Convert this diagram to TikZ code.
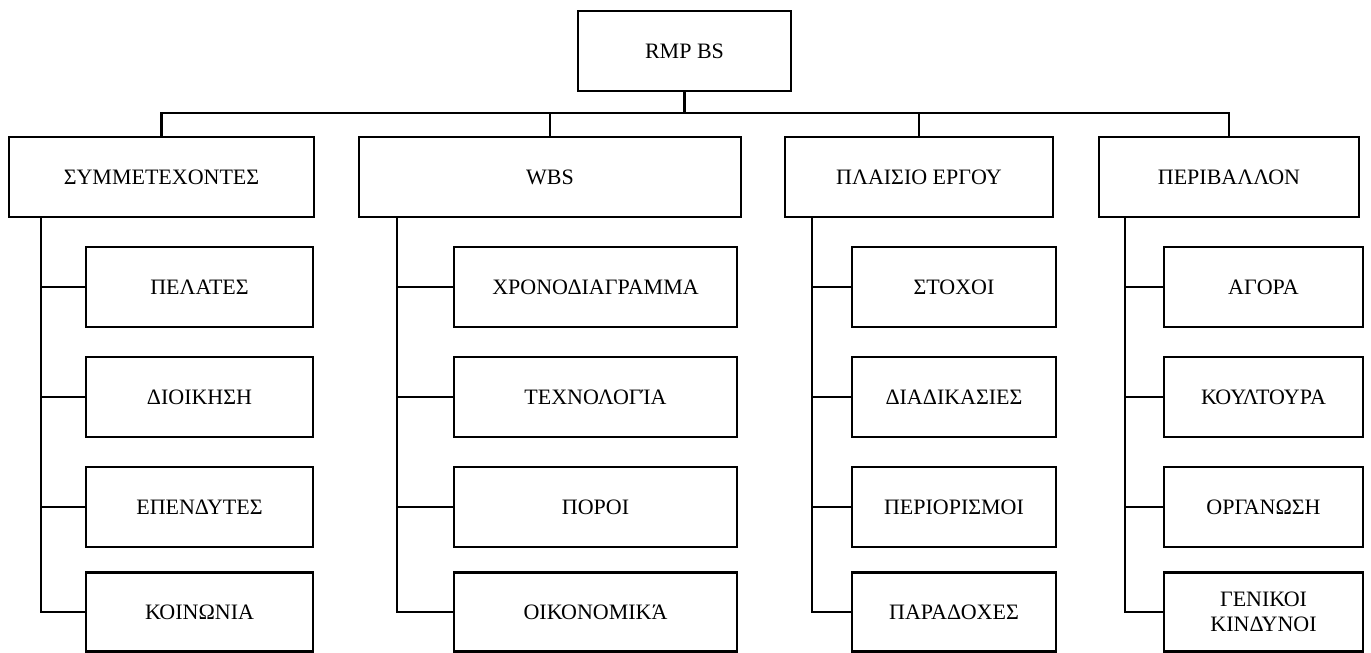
\documentclass[tikz,border=0pt]{standalone}
\usepackage{fontspec}
\setmainfont{Liberation Serif}
\begin{document}
\begin{tikzpicture}[x=1pt,y=-1pt,
  box/.style={draw=black,line width=2.2pt,fill=white,inner sep=0pt,
    font=\fontsize{22}{25}\selectfont,align=center},
  link/.style={draw=black,line width=2.2pt}]
\useasboundingbox[fill=white] (0,0) rectangle (1371,653);

% root
\node[box,minimum width=213pt,minimum height=80pt] (root) at (684.5,51) {RMP BS};

% first level
\node[box,minimum width=305pt,minimum height=80pt] (A) at (161.5,177) {ΣΥΜΜΕΤΕΧΟΝΤΕΣ};
\node[box,minimum width=382pt,minimum height=80pt] (B) at (550,177) {WBS};
\node[box,minimum width=268pt,minimum height=80pt] (C) at (919,177) {ΠΛΑΙΣΙΟ ΕΡΓΟΥ};
\node[box,minimum width=260pt,minimum height=80pt] (D) at (1229,177) {ΠΕΡΙΒΑΛΛΟΝ};

% second level
\foreach \n/\cx/\w/\tx/\ta/\tb/\tc/\td in {
  A/199.5/227/41/ΠΕΛΑΤΕΣ/ΔΙΟΙΚΗΣΗ/ΕΠΕΝΔΥΤΕΣ/ΚΟΙΝΩΝΙΑ,
  B/595.5/283/397/ΧΡΟΝΟΔΙΑΓΡΑΜΜΑ/ΤΕΧΝΟΛΟΓΊΑ/ΠΟΡΟΙ/ΟΙΚΟΝΟΜΙΚΆ,
  C/954/204/812/ΣΤΟΧΟΙ/ΔΙΑΔΙΚΑΣΙΕΣ/ΠΕΡΙΟΡΙΣΜΟΙ/ΠΑΡΑΔΟΧΕΣ,
  D/1263.5/199/1125/ΑΓΟΡΑ/ΚΟΥΛΤΟΥΡΑ/ΟΡΓΑΝΩΣΗ/{ΓΕΝΙΚΟΙ\\ΚΙΝΔΥΝΟΙ}} {
  \node[box,minimum width=\w pt,minimum height=80pt] (\n1) at (\cx,287) {\ta};
  \node[box,minimum width=\w pt,minimum height=80pt] (\n2) at (\cx,397) {\tb};
  \node[box,minimum width=\w pt,minimum height=80pt] (\n3) at (\cx,507) {\tc};
  \node[box,minimum width=\w pt,minimum height=79pt] (\n4) at (\cx,612) {\td};
  % trunk from the parent box down to the last child, with a branch to each child
  \coordinate (\n t) at (\tx,217);
  \draw[link] (\n t) |- (\n4.west);
  \foreach \k in {1,2,3} {
    \draw[link] (\n t |- \n\k.west) -- (\n\k.west);
  }
}

% bus from the root to the first level
\coordinate (bus) at (684.5,113);
\draw[link] (root.south) -- (bus);
\draw[link] (A.north) |- (D.north |- bus) -- (D.north);
\draw[link] (B.north) -- (B.north |- bus);
\draw[link] (C.north) -- (C.north |- bus);
\end{tikzpicture}
\end{document}
